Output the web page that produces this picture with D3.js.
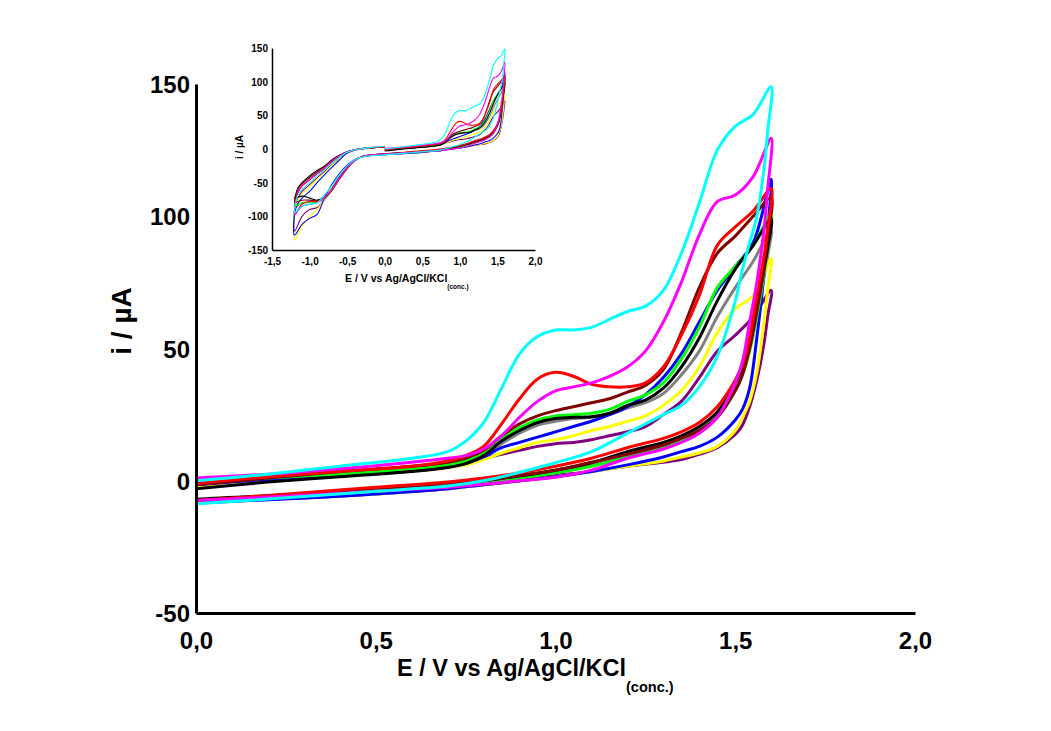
<!DOCTYPE html>
<html>
<head>
<meta charset="utf-8">
<script src="https://cdn.jsdelivr.net/npm/d3@7"></script>
<style>
  body { margin: 0; background: #fff; }
  svg text { font-family: Arial, "Liberation Sans", sans-serif; font-weight: bold; fill: #000; }
</style>
</head>
<body>
<div id="chart"></div>
<script>
// scans, back to front
const seriesNames  = ['gray', 'purple', 'yellow', 'blue', 'green', 'black', 'brown', 'red', 'magenta', 'cyan'];
const seriesColors = ['#808080', '#800080', '#ffff00', '#0000ff', '#00ff00', '#000000', '#800000', '#ff0000', '#ff00ff', '#00ffff'];

// anodic sweep 0 -> 1.6 V
const eForward = [0, 0.2, 0.4, 0.6, 0.7, 0.75, 0.8, 0.85, 0.9, 0.95, 1.0, 1.05, 1.1, 1.15, 1.2, 1.25, 1.3, 1.35, 1.4, 1.45, 1.5, 1.55, 1.6];
const iForward = [
  [-2, 0, 2, 4, 5.5, 7, 9.5, 14, 18, 21, 22.5, 23.5, 24, 25, 27.5, 29.5, 33, 40, 49, 62, 73, 83, 95],
  [-1, 0.5, 2, 4.5, 6, 7, 8.5, 10, 11.5, 13, 14, 14.5, 15.5, 17, 18.5, 20.5, 25, 30, 39, 49, 55, 62, 72],
  [-2, 0, 2, 4, 5, 6, 8, 10.5, 12.5, 14.5, 15.5, 17, 19, 20.5, 22.5, 24.5, 28.5, 34, 43, 56, 65, 70, 84],
  [-1.5, 0.5, 2, 4, 5.5, 6.5, 9, 12.5, 14.5, 16.5, 18.5, 20.5, 22.5, 25, 28, 32.5, 39, 48, 60, 72, 81, 90, 114],
  [-1, 1, 2.5, 4.5, 6, 7.5, 10.5, 16, 20, 23, 24.5, 25, 25.5, 27, 30, 32.5, 37, 46, 58, 73, 81, 89, 101],
  [-3, -0.5, 1.5, 3.5, 5, 6.5, 9.5, 15, 19, 22, 23.5, 24, 24.2, 25.5, 28.5, 30.5, 35, 43, 54, 68, 80, 89, 99],
  [-1.5, 1, 3.5, 5.5, 7, 8.5, 11.5, 17, 21.5, 24.5, 26.5, 28, 29.5, 31, 33.5, 36, 42, 56, 73, 86, 92.5, 100, 107],
  [-1, 1.5, 3.5, 5.5, 7.5, 9.5, 13, 21.5, 31, 38.5, 41, 39.5, 36.5, 35.5, 35.5, 37, 43, 55, 70, 89, 96, 102, 110.5],
  [1, 2.5, 4.5, 7, 8.5, 9.5, 12, 17, 24, 30, 34, 35.5, 37, 39.5, 43, 49, 60, 75, 93, 105.5, 108, 115, 129.5],
  [0, 2.5, 5.5, 8.5, 11, 15, 22, 35, 48, 54.5, 57, 57, 58, 61, 64, 66, 72, 86, 105, 125, 134, 138.5, 149]
];

// cathodic sweep 1.6 -> -1.2 V
const eReverse = [1.59, 1.58, 1.56, 1.54, 1.52, 1.5, 1.45, 1.4, 1.35, 1.3, 1.2, 1.1, 1.0, 0.9, 0.8, 0.7, 0.5, 0.3, 0, -0.2, -0.3, -0.4, -0.5, -0.6, -0.7, -0.8, -0.9, -1.0, -1.1, -1.2];
const iReverse = [
  [85, 77, 64, 51, 42, 36, 25.5, 20, 16, 13.5, 10, 6, 3.5, 1.5, -0.5, -2, -4, -5.5, -8, -9.5, -11, -16, -26, -40, -56, -69, -77, -78, -80, -88],
  [62, 52, 38, 28, 21, 17.5, 12.5, 10, 8, 7, 5.5, 3.5, 2, 0, -1.5, -3, -5, -6.5, -8, -9.5, -11.5, -16, -26, -40, -58, -75, -87, -90, -100, -122],
  [72, 60, 41, 30, 24, 19, 13, 10.5, 9, 7.5, 5.5, 3.5, 1.5, 0, -1.5, -3, -5, -6, -8, -9.5, -11.5, -16, -25, -38, -55, -74, -90, -100, -115, -135],
  [95, 78, 54, 35, 27, 23, 16.5, 13, 11, 9, 6, 3.5, 1.5, 0, -1.5, -3, -5, -6.5, -8.5, -10, -12, -16, -24, -36, -52, -72, -97, -103, -112, -128],
  [88, 78, 62, 49, 40, 34, 24, 18.5, 15, 12.5, 9, 5.5, 3, 1, -0.5, -2, -4, -5.5, -7.5, -9, -11, -17, -29, -44, -61, -74, -79, -80, -80, -85],
  [88, 80, 66, 52, 43, 37, 26, 20.5, 17, 14.5, 11, 6.8, 4, 1.8, 0, -1.5, -3.5, -5, -7, -9, -11, -17, -28, -43, -60, -72, -76, -73, -70, -74],
  [92, 80, 64, 50, 40, 34, 24, 19, 16, 13.5, 10, 7, 4, 2, 0, -1.5, -3.5, -5, -7.5, -9, -11, -17, -29, -44, -61, -73, -77, -76, -76, -80],
  [95, 85, 70, 54, 44, 38, 28, 22, 18.5, 16, 12.5, 8.5, 5.5, 3, 1, -0.5, -2.5, -4.5, -7.5, -9, -11, -17, -29, -44, -60, -72, -78, -78, -82, -97],
  [110, 95, 75, 60, 45, 37, 24, 18, 14.5, 12, 8.5, 4, 1.3, 0, -1.3, -2.5, -4, -5.5, -7.5, -9, -11, -17, -28, -43, -59, -72, -80, -82, -85, -98],
  [132, 118, 100, 90, 80, 68, 47, 35.5, 28.5, 25, 18, 11, 6.8, 3.2, 0, -2, -4, -6, -8.7, -10, -12, -16, -25, -38, -54, -68, -80, -82, -85, -95]
];

// return sweep -1.2 -> 0 V
const eReturn = [-1.2, -1.18, -1.15, -1.1, -1.0, -0.9, -0.8, -0.7, -0.6, -0.5, -0.4, -0.3, -0.2, 0];
const iReturn = [
  [-85, -72, -62, -54, -45, -36, -28, -19, -11, -5, -1.5, 0.5, 1.5, 3],
  [-92, -82, -72, -63, -53, -43, -33, -23, -13, -6, -2, 0, 1.5, 3],
  [-95, -85, -75, -66, -56, -45, -35, -24, -14, -6, -2, 0, 1.5, 3],
  [-97, -87, -80, -73, -63, -50, -38, -27, -16, -6, -1.5, 0.5, 1.5, 3],
  [-82, -70, -60, -52, -43, -35, -27, -18, -10, -4, -1, 0.5, 1.5, 3],
  [-74, -66, -57, -50, -40, -32, -25, -16, -9, -4, -1, 0.5, 1.5, 3],
  [-78, -68, -58, -51, -42, -34, -26, -17, -10, -4, -1, 0.5, 1.5, 3],
  [-90, -76, -64, -55, -46, -37, -29, -19, -11, -5, -1.5, 0.5, 1.5, 3],
  [-88, -75, -63, -54, -45, -36, -28, -18, -10, -4, -1, 0.5, 2, 4],
  [-90, -78, -68, -60, -50, -40, -31, -21, -12, -5, -1.5, 0.5, 2, 4]
];

const mainXTicks = [0, 0.5, 1, 1.5, 2];
const mainYTicks = [-50, 0, 50, 100, 150];
const insetXTicks = [-1.5, -1, -0.5, 0, 0.5, 1, 1.5, 2];
const insetYTicks = [-150, -100, -50, 0, 50, 100, 150];

// build one cycle per scan
const scans = seriesNames.map((name, k) => {
  const pts = [];
  eForward.forEach((e, j) => pts.push([e, iForward[k][j]]));
  eReverse.forEach((e, j) => pts.push([e, iReverse[k][j]]));
  eReturn.forEach((e, j) => pts.push([e, iReturn[k][j]]));
  return { name: name, color: seriesColors[k], pts: pts };
});

// plain hyphen minus and decimal comma like the original
const comma = d => d.toFixed(1).replace('.', ',');
const plain = d => String(d);

const svg = d3.select('#chart').append('svg')
  .attr('width', 1051)
  .attr('height', 731);

function drawPanel(opt) {
  const x = d3.scaleLinear().domain(opt.xDomain).range(opt.xRange);
  const y = d3.scaleLinear().domain(opt.yDomain).range(opt.yRange);
  const g = svg.append('g');

  g.append('clipPath').attr('id', opt.id + '-clip')
    .append('rect')
    .attr('x', opt.xRange[0]).attr('y', opt.yRange[1] - 10)
    .attr('width', opt.xRange[1] - opt.xRange[0])
    .attr('height', opt.yRange[0] - opt.yRange[1] + 10);

  const line = d3.line()
    .x(d => x(d[0]))
    .y(d => y(d[1]))
    .curve(d3.curveCatmullRom.alpha(0.5));

  g.append('g').attr('clip-path', `url(#${opt.id}-clip)`)
    .selectAll('path')
    .data(scans)
    .enter().append('path')
    .attr('d', d => line(d.pts))
    .attr('fill', 'none')
    .attr('stroke', d => d.color)
    .attr('stroke-width', opt.lineWidth)
    .attr('stroke-linejoin', 'round');

  const xAxis = d3.axisBottom(x)
    .tickValues(opt.xTicks)
    .tickSize(0)
    .tickPadding(opt.xPad)
    .tickFormat(comma);
  const gx = g.append('g')
    .attr('transform', `translate(0, ${opt.yRange[0]})`)
    .call(xAxis);

  const yAxis = d3.axisLeft(y)
    .tickValues(opt.yTicks)
    .tickSize(0)
    .tickPadding(opt.yPad)
    .tickFormat(plain);
  const gy = g.append('g')
    .attr('transform', `translate(${opt.xRange[0]}, 0)`)
    .call(yAxis);

  [gx, gy].forEach(a => {
    a.select('.domain').attr('stroke', '#000').attr('stroke-width', opt.axisWidth);
    a.selectAll('text')
      .attr('font-size', opt.tickFont + 'px')
      .attr('font-family', 'Arial, "Liberation Sans", sans-serif')
      .attr('font-weight', 'bold')
      .attr('fill', '#000');
  });
  gy.selectAll('text').attr('dy', '0.36em');

  const title = g.append('text')
    .attr('x', opt.xTitle[0])
    .attr('y', opt.xTitle[1])
    .attr('font-size', opt.titleFont + 'px');
  title.append('tspan').text('E / V vs Ag/AgCl/KCl');
  title.append('tspan')
    .attr('dy', opt.titleFont * 0.7)
    .attr('font-size', (opt.titleFont * 0.62) + 'px')
    .text('(conc.)');

  g.append('text')
    .attr('transform', `translate(${opt.yTitle[0]}, ${opt.yTitle[1]}) rotate(-90)`)
    .attr('text-anchor', 'middle')
    .attr('font-size', opt.yTitleFont + 'px')
    .text('i / µA');
}

// main panel
drawPanel({
  id: 'main',
  xDomain: [0, 2], xRange: [196, 915],
  yDomain: [-50, 150], yRange: [613, 84],
  xTicks: mainXTicks, yTicks: mainYTicks,
  xPad: 19, yPad: 6,
  tickFont: 24, titleFont: 23.5, yTitleFont: 28,
  axisWidth: 3, lineWidth: 3,
  xTitle: [397, 676], yTitle: [131, 321]
});

// inset
drawPanel({
  id: 'inset',
  xDomain: [-1.5, 2], xRange: [272, 535],
  yDomain: [-150, 150], yRange: [250, 48],
  xTicks: insetXTicks, yTicks: insetYTicks,
  xPad: 8, yPad: 4,
  tickFont: 10, titleFont: 10.5, yTitleFont: 10,
  axisWidth: 1.5, lineWidth: 1.1,
  xTitle: [345, 282], yTitle: [243, 147]
});
</script>
</body>
</html>
